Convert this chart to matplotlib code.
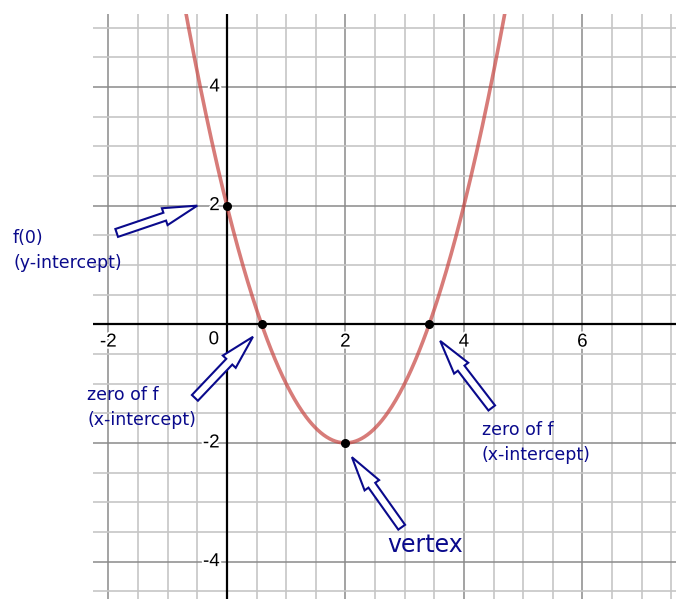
import numpy as np
import matplotlib
matplotlib.use("Agg")
import matplotlib.pyplot as plt
from matplotlib.patches import FancyArrow
import matplotlib.patheffects as pe

# f(x) = a x^2 + b x + c
coef_a, coef_b, coef_c = 1.0, -4.0, 2.0

# window
x_min, x_max = -2.26, 7.58
y_min, y_max = -4.63, 5.23

# axis numbers
x_ticks = [-2, 2, 4, 6]
y_ticks = [-4, -2, 2, 4]

# special points of f
vx = -coef_b / (2 * coef_a)
vy = coef_a * vx**2 + coef_b * vx + coef_c
root_off = np.sqrt(coef_b**2 - 4 * coef_a * coef_c) / (2 * coef_a)
pts_x = [0.0, vx - root_off, vx + root_off, vx]
pts_y = [coef_c, 0.0, 0.0, vy]

# annotations: (label lines, text x, first line y, arrow tail, arrow tip)
notes = [
    (["f(0)", "(y-intercept)"], -3.61, 1.46, (-1.86, 1.54), (-0.5, 2.0)),
    (["zero of f", "(x-intercept)"], -2.36, -1.19, (-0.54, -1.24), (0.44, -0.21)),
    (["zero of f", "(x-intercept)"], 4.30, -1.78, (4.47, -1.41), (3.60, -0.28)),
]
vertex_label = ("vertex", 2.70, -3.72, (2.95, -3.42), (2.11, -2.24))

navy = "#0a0a8c"

fig = plt.figure(figsize=(6.76, 5.99), dpi=100)
ax = fig.add_axes([93 / 676, 0, 583 / 676, 585 / 599])
ax.set_xlim(x_min, x_max)
ax.set_ylim(y_min, y_max)
for s in ax.spines.values():
    s.set_visible(False)
ax.set_xticks([])
ax.set_yticks([])

# grid, light every 0.5, darker every 2
for g in np.arange(-2.0, 8.0, 0.5):
    major = (g % 2 == 0)
    ax.axvline(g, color="#8a8a8a" if major else "#c6c6c6",
               lw=1.1 if major else 1.2, zorder=1)
for g in np.arange(-4.5, 5.5, 0.5):
    major = (g % 2 == 0)
    ax.axhline(g, color="#8a8a8a" if major else "#c6c6c6",
               lw=1.1 if major else 1.2, zorder=1)

ax.axhline(0, color="black", lw=1.6, zorder=2)
ax.axvline(0, color="black", lw=1.6, zorder=2)

halo = [pe.withStroke(linewidth=3, foreground="white")]
for t in x_ticks:
    ax.text(t, -0.30, str(t), ha="center", va="center", fontsize=13.5,
            family="Liberation Sans", path_effects=halo, zorder=3)
for t in y_ticks:
    ax.text(-0.12, t, str(t), ha="right", va="center", fontsize=13.5,
            family="Liberation Sans", path_effects=halo, zorder=3)
ax.text(-0.22, -0.26, "0", ha="center", va="center", fontsize=13.5,
        family="Liberation Sans", path_effects=halo, zorder=3)

xs = np.linspace(x_min, x_max, 600)
ax.plot(xs, coef_a * xs**2 + coef_b * xs + coef_c, color="#c74440", alpha=0.7,
        lw=2.6, zorder=4)
ax.plot(pts_x, pts_y, "o", color="black", ms=5.5, zorder=5)


def block_arrow(tail, tip):
    dx, dy = tip[0] - tail[0], tip[1] - tail[1]
    ax.add_patch(FancyArrow(tail[0], tail[1], dx, dy, width=0.14,
                            head_width=0.30, head_length=0.58,
                            length_includes_head=True, fc="white",
                            ec=navy, lw=1.5, zorder=6))


for lines, tx, ty, tail, tip in notes:
    for i, line in enumerate(lines):
        ax.text(tx, ty - i * 0.42, line, ha="left", va="center", fontsize=12.5,
                color=navy, family="DejaVu Sans", clip_on=False, zorder=7)
    block_arrow(tail, tip)

lbl, tx, ty, tail, tip = vertex_label
ax.text(tx, ty, lbl, ha="left", va="center", fontsize=17, color=navy,
        family="DejaVu Sans", zorder=7)
block_arrow(tail, tip)

fig.savefig("out.png", dpi=100)
